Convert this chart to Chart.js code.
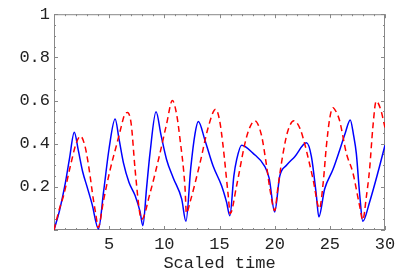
<!DOCTYPE html>
<html>
<head>
<meta charset="utf-8">
<script src="https://cdn.jsdelivr.net/npm/chart.js@4"></script>
<style>
  html, body { margin: 0; padding: 0; background: #fff; }
  #wrap { width: 414px; height: 277px; }
</style>
</head>
<body>
<div id="wrap"><canvas id="grafico" width="414" height="277"></canvas></div>
<script>
// valores (tempo escalado, valor)
const blueT = [0, 0.5, 1.0, 1.4, 1.84, 2.2, 2.6, 3.0, 3.45, 4.03, 4.5, 5.0, 5.54, 5.9, 6.3, 6.8, 7.35, 7.8, 8.05,
  8.4, 8.7, 9.25, 9.7, 10.2, 10.8, 11.57, 11.96, 12.4, 12.78, 13.08, 13.68, 14.43, 15.19, 15.64, 15.94,
  16.3, 16.55, 17.0, 18.05, 19.1, 19.5, 20.0, 20.46, 21.07, 21.82, 22.88, 23.33, 23.78, 24.0,
  24.53, 25.28, 25.89, 26.4, 26.85, 27.15, 27.4, 27.69, 27.99, 28.6, 29.35, 30.0];
const blueV = [0, 0.09, 0.21, 0.33, 0.453, 0.37, 0.27, 0.20, 0.12, 0.005, 0.18, 0.38, 0.514, 0.42, 0.31, 0.22, 0.16, 0.085, 0.02,
  0.2, 0.355, 0.548, 0.44, 0.327, 0.242, 0.144, 0.04, 0.29, 0.446, 0.503, 0.416, 0.295, 0.205, 0.129, 0.066,
  0.25, 0.325, 0.393, 0.355, 0.295, 0.24, 0.084, 0.25, 0.30, 0.34, 0.404, 0.34, 0.16, 0.061,
  0.19, 0.28, 0.37, 0.45, 0.51, 0.44, 0.355, 0.174, 0.04, 0.129, 0.265, 0.393];

const redT = [0, 0.5, 0.87, 1.5, 2.0, 2.4, 2.8, 3.13, 3.58, 3.8, 4.0, 4.5, 5.09, 5.7, 6.1, 6.36, 6.66, 7.0, 7.35, 7.8, 7.95,
  8.7, 9.6, 10.2, 10.73, 11.1, 11.4, 11.87, 12.0, 12.33, 13.23, 13.98, 14.65, 15.0, 15.3, 15.79, 15.97,
  16.55, 17.3, 17.7, 18.2, 18.8, 19.2, 19.6, 20.0, 20.3, 20.76, 21.2, 21.75, 22.3, 22.72, 23.1, 23.48, 24.06,
  24.4, 24.68, 25.0, 25.28, 25.6, 25.89, 26.5, 27.09, 27.69, 27.99, 28.3, 28.6, 28.9, 29.2, 29.6, 30.0];
const redV = [0, 0.10, 0.16, 0.30, 0.40, 0.435, 0.39, 0.30, 0.137, 0.07, 0.012, 0.14, 0.28, 0.40, 0.48, 0.53, 0.545, 0.49, 0.28, 0.07, 0.05,
  0.17, 0.355, 0.49, 0.60, 0.54, 0.43, 0.2, 0.078, 0.129, 0.31, 0.476, 0.56, 0.51, 0.40, 0.16, 0.076,
  0.205, 0.40, 0.47, 0.506, 0.44, 0.32, 0.18, 0.09, 0.20, 0.355, 0.46, 0.506, 0.47, 0.40, 0.32, 0.235, 0.10,
  0.22, 0.385, 0.52, 0.567, 0.545, 0.506, 0.355, 0.265, 0.114, 0.046, 0.15, 0.28, 0.476, 0.597, 0.56, 0.475];

const xTicks = [5, 10, 15, 20, 25, 30];
const yTicks = [0.2, 0.4, 0.6, 0.8, 1];
const xTitle = 'Scaled time';

const fonte = "'Liberation Mono', 'DejaVu Sans Mono', monospace";

// moldura com marcas internas, estilo Mathematica
const moldura = {
    id: 'moldura',
    beforeDatasetsDraw(chart) {
        const { ctx, chartArea: a, scales: { x, y } } = chart;
        ctx.save();
        ctx.strokeStyle = '#888';
        ctx.lineWidth = 1;
        ctx.strokeRect(a.left + 0.5, a.top + 0.5, a.right - a.left - 1, a.bottom - a.top - 1);
        ctx.beginPath();
        for (let t = 0; t <= 30; t += 1) {
            const px = Math.round(x.getPixelForValue(t)) + 0.5;
            const len = (t % 5 === 0) ? 4 : 2;
            ctx.moveTo(px, a.bottom); ctx.lineTo(px, a.bottom - len);
            ctx.moveTo(px, a.top); ctx.lineTo(px, a.top + len);
        }
        for (let i = 0; i <= 20; i++) {
            const v = i * 0.05;
            const py = Math.round(y.getPixelForValue(v)) + 0.5;
            const len = (i % 4 === 0) ? 4 : 2;
            ctx.moveTo(a.left, py); ctx.lineTo(a.left + len, py);
            ctx.moveTo(a.right, py); ctx.lineTo(a.right - len, py);
        }
        ctx.stroke();
        ctx.restore();
    }
};

function pontos(ts, vs) {
    return ts.map((t, i) => ({ x: t, y: vs[i] }));
}

const ctx = document.getElementById('grafico');
new Chart(ctx, {
    type: 'scatter',
    data: {
        datasets: [{
            data: pontos(redT, redV),
            showLine: true,
            borderColor: '#ff0000',
            borderWidth: 1.5,
            borderDash: [6, 4],
            pointRadius: 0,
            cubicInterpolationMode: 'monotone'
        }, {
            data: pontos(blueT, blueV),
            showLine: true,
            borderColor: '#0000ff',
            borderWidth: 1.5,
            pointRadius: 0,
            cubicInterpolationMode: 'monotone'
        }]
    },
    options: {
        responsive: false,
        animation: false,
        devicePixelRatio: 1,
        layout: { padding: { top: 10, right: 29, left: 0, bottom: 0 } },
        plugins: { legend: { display: false }, tooltip: { enabled: false } },
        scales: {
            x: {
                type: 'linear', min: 0, max: 30,
                grid: { display: false, drawTicks: false },
                border: { display: false },
                afterBuildTicks: s => { s.ticks = xTicks.map(v => ({ value: v })); },
                afterFit: s => { s.height = 47; },
                ticks: { color: '#222', padding: 4, font: { family: fonte, size: 17 }, maxRotation: 0 },
                title: { display: true, text: xTitle, color: '#222', padding: { top: 0, bottom: 3 }, font: { family: fonte, size: 17 } }
            },
            y: {
                type: 'linear', min: 0, max: 1,
                grid: { display: false, drawTicks: false },
                border: { display: false },
                afterBuildTicks: s => { s.ticks = yTicks.map(v => ({ value: v })); },
                afterFit: s => { s.width = 54; },
                ticks: { color: '#222', padding: 4, font: { family: fonte, size: 17 },
                    callback: v => String(Math.round(v * 10) / 10) }
            }
        }
    },
    plugins: [moldura]
});
</script>
</body>
</html>
